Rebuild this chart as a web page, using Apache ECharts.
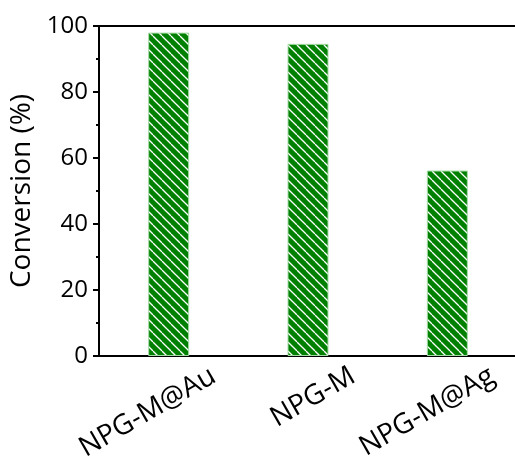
<!DOCTYPE html>
<html>
<head>
<meta charset="utf-8">
<script src="https://cdn.jsdelivr.net/npm/echarts@6/dist/echarts.min.js"></script>
<style>
  html, body { margin: 0; padding: 0; background: #fff; }
  #chart { width: 515px; height: 461px; }
</style>
</head>
<body>
<div id="chart"></div>
<script>
// Catalyst samples and their conversion (%)
const categories = ['NPG-M@Au', 'NPG-M', 'NPG-M@Ag'];
const conversion = [98, 94.6, 56.2];
const yTicks = [0, 20, 40, 60, 80, 100];

const FONT = '"Open Sans", "DejaVu Sans", sans-serif';

// Diagonal white hatch on green, tiled as a fill pattern
function hatchPattern() {
  const P = 9;
  const c = document.createElement('canvas');
  c.width = P; c.height = P;
  const ctx = c.getContext('2d');
  ctx.fillStyle = '#008000';
  ctx.fillRect(0, 0, P, P);
  ctx.strokeStyle = '#ffffff';
  ctx.lineWidth = 1.3;
  for (const k of [-P, 0, P]) {
    ctx.beginPath();
    ctx.moveTo(k, 0);
    ctx.lineTo(k + P, P);
    ctx.stroke();
  }
  return c;
}

const chart = echarts.init(document.getElementById('chart'), null, { renderer: 'canvas' });

chart.setOption({
  animation: false,
  grid: {
    left: 99, top: 26, width: 418, height: 330,
    containLabel: false, outerBoundsMode: 'none'
  },
  xAxis: [
    {
      type: 'category',
      data: categories,
      position: 'bottom',
      axisLine: { lineStyle: { color: '#000', width: 2 } },
      axisTick: { alignWithLabel: true, length: 6, lineStyle: { color: '#000', width: 2 } },
      axisLabel: {
        color: '#000', fontFamily: FONT, fontSize: 28,
        rotate: 30, margin: 44, align: 'right', verticalAlign: 'middle',
        padding: [0, -52, 0, 0]
      }
    },
    {
      type: 'category',
      data: categories,
      position: 'top',
      axisLine: { lineStyle: { color: '#000', width: 2 } },
      axisTick: { alignWithLabel: true, inside: true, length: 3, lineStyle: { color: '#000', width: 1 } },
      axisLabel: { show: false }
    }
  ],
  yAxis: {
    type: 'value',
    min: 0, max: 100, interval: 20,
    name: 'Conversion (%)',
    nameLocation: 'middle',
    nameRotate: 90,
    nameGap: 58,
    nameTextStyle: { color: '#000', fontFamily: FONT, fontSize: 28 },
    axisLine: { show: true, lineStyle: { color: '#000', width: 2 } },
    axisTick: { show: true, length: 6, lineStyle: { color: '#000', width: 2 } },
    minorTick: { show: true, splitNumber: 2, length: 3, lineStyle: { color: '#000', width: 2 } },
    splitLine: { show: false },
    axisLabel: {
      color: '#000', fontFamily: FONT, fontSize: 24, margin: 11,
      formatter: v => (yTicks.includes(v) ? String(v) : '')
    }
  },
  series: [{
    type: 'bar',
    data: conversion,
    barWidth: 41,
    itemStyle: {
      color: { image: hatchPattern(), repetition: 'repeat' },
      borderColor: '#a6dca6',
      borderWidth: 1
    }
  }]
});
</script>
</body>
</html>
